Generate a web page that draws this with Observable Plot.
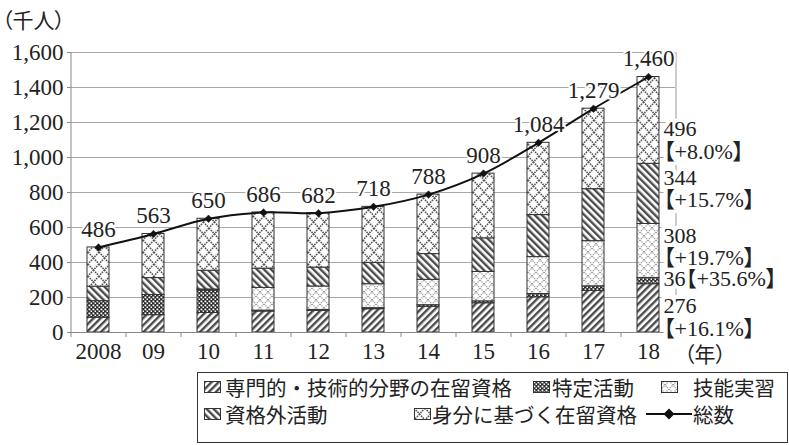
<!DOCTYPE html>
<html>
<head>
<meta charset="utf-8">
<script src="https://cdn.jsdelivr.net/npm/d3@7"></script>
<script src="https://cdn.jsdelivr.net/npm/@observablehq/plot@0.6"></script>
<style>
  html, body { margin: 0; padding: 0; background: #fff; }
  #wrap { position: relative; width: 789px; height: 445px; overflow: hidden;
          font-family: "Liberation Serif", "Noto Sans CJK JP", serif; color: #222; }
  #wrap svg text { font-feature-settings: "palt"; }
  .note { position: absolute; font-size: 21px; font-feature-settings: "palt"; white-space: nowrap; line-height: 1;
          font-family: "Noto Sans CJK JP", sans-serif; }
  #legend { position: absolute; left: 197px; top: 372px; width: 591px; height: 71px;
            border: 1px solid #333; box-sizing: border-box; background: #fff; }
  .item { position: absolute; height: 24px; display: flex; align-items: center;
          font-size: 20.5px; line-height: 1; white-space: nowrap; font-family: "Noto Sans CJK JP", sans-serif; }
  .item svg { flex: none; }
</style>
</head>
<body>
<svg width="0" height="0" style="position:absolute">
  <defs>
    <pattern id="pSenmon" width="5" height="5" patternUnits="userSpaceOnUse" patternTransform="rotate(45)">
      <rect width="5" height="5" fill="#fff"/>
      <rect width="2.4" height="5" fill="#4a4a4a"/>
    </pattern>
    <pattern id="pTokutei" width="4" height="4" patternUnits="userSpaceOnUse">
      <rect width="4" height="4" fill="#2a2a2a"/>
      <rect x="0.5" y="0.5" width="1.8" height="1.8" fill="#fff"/>
      <rect x="2.5" y="2.5" width="1.8" height="1.8" fill="#fff"/>
    </pattern>
    <pattern id="pGinou" width="8" height="8" patternUnits="userSpaceOnUse">
      <rect width="8" height="8" fill="#fff"/>
      <path d="M0,0 L8,8 M8,0 L0,8" stroke="#9a9a9a" stroke-width="1.3" stroke-dasharray="1.2 1"/>
    </pattern>
    <pattern id="pShikakugai" width="5" height="5" patternUnits="userSpaceOnUse" patternTransform="rotate(-45)">
      <rect width="5" height="5" fill="#fff"/>
      <rect width="2.4" height="5" fill="#4a4a4a"/>
    </pattern>
    <pattern id="pMibun" width="11" height="12" patternUnits="userSpaceOnUse">
      <rect width="11" height="12" fill="#fff"/>
      <path d="M0,0 L11,12 M11,0 L0,12" stroke="#555" stroke-width="1.6" stroke-dasharray="1.6 1"/>
    </pattern>
  </defs>
</svg>

<div id="wrap">
  <div id="chart"></div>
  <div class="note" style="left:2px; top:9px;">（千人）</div>
  <div class="note" style="left:684px; top:343px;">（年）</div>
  <div id="legend"></div>
</div>

<script>
// Foreign workers in Japan by residence status (thousands), October of each year
const years = ["2008", "09", "10", "11", "12", "13", "14", "15", "16", "17", "18"];
const seriesNames = ["専門的・技術的分野の在留資格", "特定活動", "技能実習", "資格外活動", "身分に基づく在留資格"];
const senmon     = [84, 99, 112, 120, 124, 133, 147, 167, 201, 238, 276];
const tokutei    = [95, 115, 128, 5, 5, 6, 9, 11, 19, 26, 36];
const ginou      = [0, 0, 6, 130, 134, 137, 145, 168, 211, 258, 308];
const shikakugai = [83, 97, 107, 110, 108, 122, 147, 192, 240, 297, 344];
const mibun      = [224, 252, 297, 321, 311, 320, 340, 370, 413, 460, 496];
const totals     = [486, 563, 650, 686, 682, 718, 788, 908, 1084, 1279, 1460];
const growth2018 = ["+16.1%", "+35.6%", "+19.7%", "+15.7%", "+8.0%"];
const yTicks     = [0, 200, 400, 600, 800, 1000, 1200, 1400, 1600];
const totalLabel = "総数";

const patterns = ["url(#pSenmon)", "url(#pTokutei)", "url(#pGinou)", "url(#pShikakugai)", "url(#pMibun)"];
const seriesValues = [senmon, tokutei, ginou, shikakugai, mibun];

// long-format rows for the stacked bars, bottom series first
const rows = [];
seriesValues.forEach((vals, s) => {
  vals.forEach((v, i) => rows.push({year: years[i], series: seriesNames[s], value: v}));
});
const totalRows = years.map((y, i) => ({year: y, total: totals[i]}));

// labels beside the last bar: value and year-on-year change, near segment middles
const last = years.length - 1;
const noteShift = [9, -2, -4, -5, 20];
let base = 0;
const notes = seriesValues.map((vals, s) => {
  const v = vals[last];
  const mid = base + v / 2;
  base += v;
  const text = s === 1 ? `${v}【${growth2018[s]}】` : `${v}\n【${growth2018[s]}】`;
  return {year: years[last], y: mid, text, shift: noteShift[s]};
});

const W = 789, mL = 70, mR = 114;
const step = (W - mL - mR) / years.length;
const fmt = d3.format(",");

const noteMarks = notes.map(n => Plot.text([n], {
  x: "year", y: "y", text: "text", dx: step * 0.4 - 7, dy: n.shift,
  textAnchor: "start", lineHeight: 1.02, fontSize: 22, fill: "#222",
  stroke: "#fff", strokeWidth: 8, paintOrder: "stroke"
}));

const plot = Plot.plot({
  width: W,
  height: 372,
  marginLeft: mL,
  marginRight: mR,
  marginTop: 52,
  marginBottom: 40,
  style: {fontFamily: '"Liberation Serif", "Noto Sans CJK JP", serif', fontSize: "23px", color: "#222", background: "transparent", overflow: "visible"},
  x: {domain: years, paddingInner: 0.6, paddingOuter: 0.3, label: null},
  y: {domain: [0, 1600], label: null},
  color: {type: "ordinal", domain: seriesNames, range: patterns},
  marks: [
    Plot.gridY(yTicks, {stroke: "#a8a8a8", strokeOpacity: 1, strokeWidth: 1}),
    Plot.ruleX([years[last]], {dx: step / 2, y1: 0, y2: 1600, stroke: "#999"}),
    Plot.barY(rows, {x: "year", y: "value", fill: "series", stroke: "#333", strokeWidth: 1}),
    Plot.ruleY([0], {stroke: "#888"}),
    Plot.ruleX([years[0]], {dx: -step / 2, y1: 0, y2: 1600, stroke: "#888"}),
    Plot.ruleX(years, {dx: -step / 2, y1: 0, y2: 0, insetBottom: -5, stroke: "#888"}),
    Plot.ruleX([years[last]], {dx: step / 2, y1: 0, y2: 0, insetBottom: -5, stroke: "#888"}),
    Plot.axisY(yTicks, {tickSize: 3, tickPadding: 4, tickFormat: fmt, stroke: "#888", fontSize: 23}),
    Plot.axisX({tickSize: 0, tickPadding: 10, fontSize: 23}),
    Plot.line(totalRows, {x: "year", y: "total", curve: "catmull-rom", stroke: "#111", strokeWidth: 2}),
    Plot.dot(totalRows, {x: "year", y: "total", symbol: "diamond2", r: 3.4, fill: "#111", stroke: "#111", strokeWidth: 0.5}),
    Plot.text(totalRows, {x: "year", y: "total", text: d => fmt(d.total), dy: -18, fontSize: 23,
      fill: "#222", stroke: "#fff", strokeWidth: 4, paintOrder: "stroke"}),
    ...noteMarks
  ]
});
document.getElementById("chart").appendChild(plot);

// legend: pattern swatches, the total line with its marker
const legend = document.getElementById("legend");
const legendItems = [
  {label: seriesNames[0], fill: patterns[0], left: 6, top: 2, gap: 4},
  {label: seriesNames[1], fill: patterns[1], left: 335, top: 2, gap: 2},
  {label: seriesNames[2], fill: patterns[2], left: 463, top: 2, gap: 15},
  {label: seriesNames[3], fill: patterns[3], left: 6, top: 29, gap: 4},
  {label: seriesNames[4], fill: patterns[4], left: 216, top: 29, gap: 1},
  {label: totalLabel, line: true, left: 448, top: 29, gap: 1}
];
for (const it of legendItems) {
  const div = document.createElement("div");
  div.className = "item";
  div.style.left = it.left + "px";
  div.style.top = it.top + "px";
  const sw = it.line
    ? `<svg width="46" height="14"><line x1="0" y1="7" x2="46" y2="7" stroke="#111" stroke-width="2"/><path d="M23,1.5 L28.5,7 L23,12.5 L17.5,7 Z" fill="#111"/></svg>`
    : `<svg width="17" height="12"><rect x="0.5" y="0.5" width="16" height="11" fill="${it.fill}" stroke="#333" stroke-width="1"/></svg>`;
  div.innerHTML = sw + `<span style="margin-left:${it.gap}px">${it.label}</span>`;
  legend.appendChild(div);
}
</script>
</body>
</html>
